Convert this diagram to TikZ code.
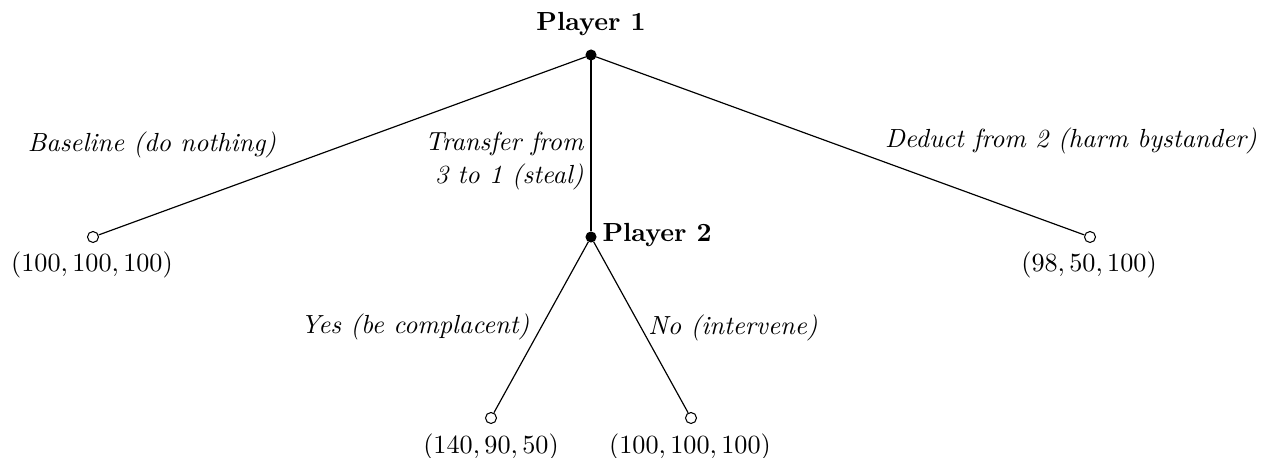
\documentclass[tikz,border=0pt]{standalone}
\begin{document}
\begin{tikzpicture}[
  x=0.3817pt, y=-0.3817pt,
  decision/.style={circle, fill=black, draw=black, inner sep=0pt, minimum size=3.8pt},
  terminal/.style={circle, fill=white, draw=black, inner sep=0pt, minimum size=4.2pt},
  player/.style={inner sep=0pt, font=\bfseries},
  payoff/.style={inner sep=0pt},
  move/.style={inner sep=0pt, font=\itshape},
  branch/.style={draw=black, line width=0.45pt}
]
\useasboundingbox (0,0) rectangle (1262,458);

% game tree vertices
\node[decision] (p1) at (591,55) {};
\node[decision] (p2) at (591,237) {};
\node[terminal] (base) at (93,237) {};
\node[terminal] (harm) at (1090,237) {};
\node[terminal] (yes) at (491,418) {};
\node[terminal] (no) at (691,418) {};

% branches
\draw[branch] (p1) -- (base);
\draw[branch] (p1) -- (p2);
\draw[branch] (p1) -- (harm);
\draw[branch] (p2) -- (yes);
\draw[branch] (p2) -- (no);

% players
\node[player] (p1name) at (591,24) {Player 1};
\node[player, anchor=west] (p2name) at (602,235) {Player 2};

% actions
\node[move] (abase) at (152,145) {Baseline (do nothing)};
\node[move, anchor=east, align=right] (asteal) at (584,161)
  {Transfer from\\[0.5pt] 3 to 1 (steal)};
\node[move] (aharm) at (1071,141) {Deduct from 2 (harm bystander)};
\node[move] (ayes) at (415,327) {Yes (be complacent)};
\node[move] (ano) at (733,328) {No (intervene)};

% payoffs
\node[payoff] (ubase) at (92,265) {$(100,100,100)$};
\node[payoff] (uharm) at (1089,265) {$(98,50,100)$};
\node[payoff] (uyes) at (491,447) {$(140,90,50)$};
\node[payoff] (uno) at (690,447) {$(100,100,100)$};
\end{tikzpicture}
\end{document}
